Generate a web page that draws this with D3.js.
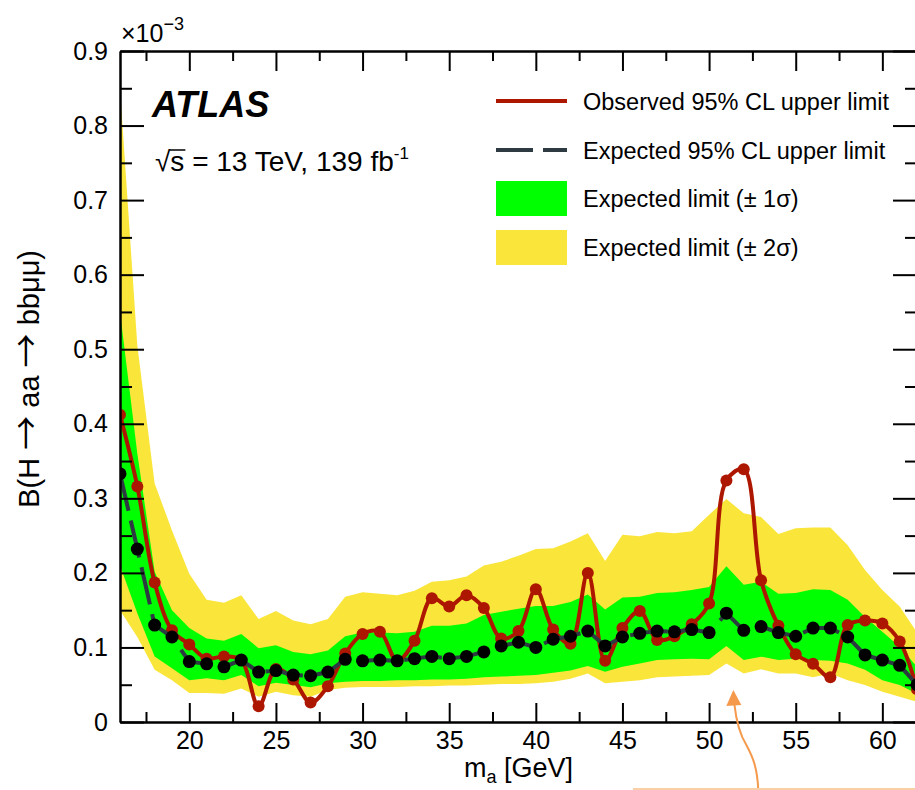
<!DOCTYPE html>
<html>
<head>
<meta charset="utf-8">
<script src="https://cdn.jsdelivr.net/npm/d3@7"></script>
<style>
  body { margin: 0; background: #fff; }
  text { font-family: "Liberation Sans", Arial, Helvetica, sans-serif; }
</style>
</head>
<body>
<div id="chart"></div>
<script>
// masses (GeV) and limits, in units of 10^-3
var masses = [16,17,18,19,20,21,22,23,24,25,26,27,28,29,30,31,32,33,34,35,36,37,38,39,40,41,42,43,44,45,46,47,48,49,50,51,52,53,54,55,56,57,58,59,60,61,62];

var observed = [0.412,0.316,0.187,0.123,0.104,0.085,0.088,0.083,0.021,0.071,0.057,0.026,0.048,0.092,0.118,0.121,0.082,0.109,0.166,0.155,0.170,0.153,0.112,0.122,0.178,0.124,0.105,0.200,0.082,0.126,0.149,0.110,0.115,0.131,0.159,0.324,0.339,0.190,0.129,0.091,0.078,0.060,0.130,0.136,0.132,0.108,0.044];

var expected = [0.333,0.232,0.130,0.114,0.081,0.078,0.074,0.083,0.067,0.069,0.063,0.062,0.067,0.084,0.082,0.083,0.082,0.085,0.088,0.085,0.088,0.094,0.102,0.107,0.100,0.111,0.115,0.122,0.102,0.114,0.119,0.122,0.121,0.124,0.120,0.146,0.123,0.128,0.120,0.115,0.126,0.126,0.114,0.090,0.083,0.076,0.050];

var sigma1Up = [0.55,0.36,0.2015,0.150,0.126,0.112,0.109,0.118,0.099,0.103,0.094,0.091,0.096,0.115,0.120,0.120,0.119,0.121,0.129,0.129,0.132,0.1435,0.148,0.152,0.1555,0.1555,0.161,0.171,0.151,0.167,0.168,0.173,0.174,0.177,0.181,0.209,0.184,0.188,0.172,0.173,0.178,0.177,0.164,0.141,0.121,0.101,0.074];
var sigma1Dn = [0.21,0.146,0.088,0.072,0.056,0.0586,0.056,0.063,0.048,0.0527,0.0496,0.0465,0.052,0.054,0.055,0.055,0.056,0.056,0.057,0.057,0.058,0.060,0.061,0.062,0.063,0.066,0.069,0.075,0.0675,0.074,0.0786,0.083,0.084,0.085,0.084,0.102,0.083,0.0876,0.083,0.085,0.083,0.082,0.0786,0.070,0.056,0.0496,0.038];
var sigma2Up = [0.85,0.505,0.32,0.257,0.199,0.164,0.160,0.170,0.138,0.149,0.136,0.131,0.138,0.168,0.174,0.172,0.170,0.176,0.188,0.190,0.195,0.210,0.215,0.223,0.232,0.233,0.242,0.253,0.216,0.251,0.249,0.255,0.253,0.256,0.278,0.299,0.280,0.275,0.252,0.260,0.261,0.261,0.237,0.204,0.177,0.155,0.12];
var sigma2Dn = [0.150,0.114,0.070,0.056,0.039,0.039,0.038,0.045,0.034,0.0406,0.036,0.034,0.043,0.046,0.047,0.047,0.047,0.048,0.048,0.049,0.049,0.050,0.051,0.051,0.052,0.054,0.058,0.065,0.052,0.054,0.056,0.060,0.061,0.062,0.063,0.0786,0.065,0.0706,0.065,0.065,0.060,0.065,0.056,0.0496,0.0406,0.034,0.027];

var xTicks = [20,25,30,35,40,45,50,55,60];
var xMinorTicks = [17.5,22.5,27.5,32.5,37.5,42.5,47.5,52.5,57.5,62.5];
var yTicks = [0,0.1,0.2,0.3,0.4,0.5,0.6,0.7,0.8,0.9];
var yMinorTicks = [0.05,0.15,0.25,0.35,0.45,0.55,0.65,0.75,0.85];

var legendLabels = ["Observed 95% CL upper limit","Expected 95% CL upper limit","Expected limit (\u00b1 1\u03c3)","Expected limit (\u00b1 2\u03c3)"];

var colRed = "#ad1700", colExp = "#2d3a42", colGreen = "#00ff00", colYellow = "#fae53a";

var width = 915, height = 790;
var svg = d3.select("#chart").append("svg")
    .attr("width", width)
    .attr("height", height)
    .style("display","block");

var x = d3.scaleLinear().domain([16, 62]).range([120, 917]);
var y = d3.scaleLinear().domain([0, 0.9]).range([722, 51]);

var data = masses.map(function(m, i) {
  return {m: m, obs: observed[i], exp: expected[i], u1: sigma1Up[i], d1: sigma1Dn[i], u2: sigma2Up[i], d2: sigma2Dn[i]};
});

svg.append("clipPath").attr("id","plotclip")
  .append("rect").attr("x",120).attr("y",51).attr("width",797).attr("height",671);

var plot = svg.append("g").attr("clip-path","url(#plotclip)");

// bands
var band2 = d3.area().x(function(d){return x(d.m)}).y0(function(d){return y(d.d2)}).y1(function(d){return y(d.u2)});
var band1 = d3.area().x(function(d){return x(d.m)}).y0(function(d){return y(d.d1)}).y1(function(d){return y(d.u1)});
plot.append("path").datum(data).attr("d", band2).attr("fill", colYellow);
plot.append("path").datum(data).attr("d", band1).attr("fill", colGreen);

// observed (smooth)
var obsLine = d3.line().x(function(d){return x(d.m)}).y(function(d){return y(d.obs)}).curve(d3.curveCatmullRom.alpha(0.5));
plot.append("path").datum(data).attr("d", obsLine)
  .attr("fill","none").attr("stroke", colRed).attr("stroke-width", 4);
plot.selectAll(".obsdot").data(data).enter().append("circle")
  .attr("class","obsdot")
  .attr("cx", function(d){return x(d.m)}).attr("cy", function(d){return y(d.obs)})
  .attr("r", 6).attr("fill", colRed);

// expected (dashed)
var expLine = d3.line().x(function(d){return x(d.m)}).y(function(d){return y(d.exp)});
plot.append("path").datum(data).attr("d", expLine)
  .attr("fill","none").attr("stroke", colExp).attr("stroke-width", 4)
  .attr("stroke-dasharray","38,10");
plot.selectAll(".expdot").data(data).enter().append("circle")
  .attr("class","expdot")
  .attr("cx", function(d){return x(d.m)}).attr("cy", function(d){return y(d.exp)})
  .attr("r", 6.5).attr("fill", "#000");

// axes, ROOT style ticks inside the frame
function styleAxis(g) {
  g.select(".domain").attr("stroke","#000").attr("stroke-width",2);
  g.selectAll(".tick line").attr("stroke","#000").attr("stroke-width",2);
  g.selectAll(".tick text").attr("font-size",25).attr("fill","#000")
    .style("font-family",'"Liberation Sans", Arial, sans-serif');
}

svg.append("g").attr("transform","translate(0,722)")
  .call(d3.axisBottom(x).tickValues(xTicks).tickSize(-19).tickSizeOuter(0).tickPadding(9).tickFormat(d3.format("d")))
  .call(styleAxis);
svg.append("g").attr("transform","translate(0,722)")
  .call(d3.axisBottom(x).tickValues(xMinorTicks).tickSize(-10).tickSizeOuter(0).tickFormat(""))
  .call(styleAxis);
svg.append("g").attr("transform","translate(0,51)")
  .call(d3.axisTop(x).tickValues(xTicks).tickSize(-20).tickSizeOuter(0).tickFormat(""))
  .call(styleAxis);
svg.append("g").attr("transform","translate(0,51)")
  .call(d3.axisTop(x).tickValues(xMinorTicks).tickSize(-10).tickSizeOuter(0).tickFormat(""))
  .call(styleAxis);

svg.append("g").attr("transform","translate(120,0)")
  .call(d3.axisLeft(y).tickValues(yTicks).tickSize(-24).tickSizeOuter(0).tickPadding(12)
    .tickFormat(function(d){ return d === 0 ? "0" : d.toFixed(1); }))
  .call(styleAxis);
svg.append("g").attr("transform","translate(120,0)")
  .call(d3.axisLeft(y).tickValues(yMinorTicks).tickSize(-12).tickSizeOuter(0).tickFormat(""))
  .call(styleAxis);
svg.append("g").attr("transform","translate(917,0)")
  .call(d3.axisRight(y).tickValues(yTicks).tickSize(-24).tickSizeOuter(0).tickFormat(""))
  .call(styleAxis);
svg.append("g").attr("transform","translate(917,0)")
  .call(d3.axisRight(y).tickValues(yMinorTicks).tickSize(-12).tickSizeOuter(0).tickFormat(""))
  .call(styleAxis);

// exponent label
var expo = svg.append("text").attr("x",121).attr("y",42).attr("font-size",25);
expo.append("tspan").text("\u00d710");
expo.append("tspan").attr("dy",-12).attr("font-size",18).text("\u22123");

// axis titles
var xt = svg.append("text").attr("x",464).attr("y",777).attr("font-size",27);
xt.append("tspan").text("m");
xt.append("tspan").attr("dy",6).attr("font-size",18).text("a");
xt.append("tspan").attr("dy",-6).text(" [GeV]");

var yt = svg.append("text")
  .attr("transform","translate(39,250) rotate(-90)")
  .attr("text-anchor","end")
  .attr("font-size",29);
yt.append("tspan").text("B(H ");
yt.append("tspan").attr("font-size",34).style("font-family","'Noto Sans CJK JP'").text("\u2192");
yt.append("tspan").text(" aa ");
yt.append("tspan").attr("font-size",34).style("font-family","'Noto Sans CJK JP'").text("\u2192");
yt.append("tspan").text(" bb\u03bc\u03bc)");

// ATLAS label
svg.append("text").attr("x",152).attr("y",117)
  .attr("font-size",36).attr("font-weight","bold").attr("font-style","italic")
  .text("ATLAS");
var en = svg.append("text").attr("x",155).attr("y",171).attr("font-size",28);
en.append("tspan").text("\u221as = 13 TeV, 139 fb");
en.append("tspan").attr("dy",-12).attr("font-size",17).text("-1");
var enNode = en.node();
var s0 = enNode.getStartPositionOfChar(1), s1 = enNode.getEndPositionOfChar(1);
svg.append("line").attr("x1", s0.x - 1).attr("x2", s1.x + 1)
  .attr("y1", 150).attr("y2", 150).attr("stroke","#000").attr("stroke-width",1.5);

// legend
var legY = [101, 150, 198, 247];
var leg = svg.selectAll(".legend-entry").data(legendLabels).enter().append("g")
  .attr("class","legend-entry")
  .attr("transform", function(d,i){ return "translate(0," + legY[i] + ")"; });
leg.each(function(d, i) {
  var g = d3.select(this);
  if (i === 0) {
    g.append("line").attr("x1",496).attr("x2",567).attr("stroke",colRed).attr("stroke-width",4);
  } else if (i === 1) {
    g.append("line").attr("x1",496).attr("x2",567).attr("stroke",colExp).attr("stroke-width",4)
      .attr("stroke-dasharray","37,10");
  } else {
    g.append("rect").attr("x",496).attr("y",-17).attr("width",71).attr("height",35)
      .attr("fill", i === 2 ? colGreen : colYellow);
  }
});
leg.append("text").attr("x",583).attr("y",9).attr("font-size",23.5).text(function(d){ return d; });

// orange annotation arrow pointing at the 51 GeV bin
var tipX = x(51.4), tipY = y(0.043);
svg.append("path")
  .attr("d", "M" + (tipX + 25) + ",791 C" + (tipX + 24) + "," + (tipY + 78) + " " + (tipX + 20) + "," + (tipY + 68) + " " + (tipX + 13) + "," + (tipY + 55)
       + " C" + (tipX + 6) + "," + (tipY + 44) + " " + (tipX + 3) + "," + (tipY + 32) + " " + (tipX + 1) + "," + (tipY + 14))
  .attr("fill","none").attr("stroke","#f59a4d").attr("stroke-width",2);
svg.append("path")
  .attr("d", "M" + tipX + "," + tipY + " L" + (tipX - 7) + "," + (tipY + 16) + " L" + (tipX + 8) + "," + (tipY + 15) + " Z")
  .attr("fill","#f59a4d");
svg.append("line").attr("x1",633).attr("x2",915).attr("y1",789).attr("y2",789)
  .attr("stroke","#f9cfa6").attr("stroke-width",2);
</script>
</body>
</html>
